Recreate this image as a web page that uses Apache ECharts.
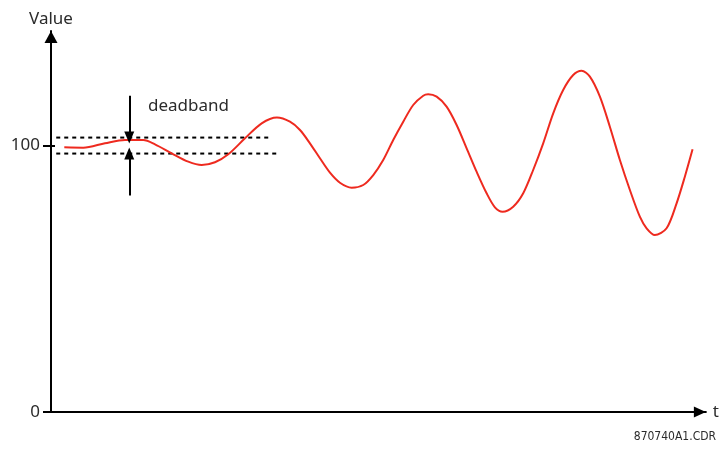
<!DOCTYPE html>
<html>
<head>
<meta charset="utf-8">
<script src="https://cdn.jsdelivr.net/npm/echarts@6/dist/echarts.min.js"></script>
<style>
  html, body { margin: 0; padding: 0; background: #fff; }
  #chart { width: 722px; height: 449px; }
</style>
</head>
<body>
<div id="chart"></div>
<script>
// signal over time (t in arbitrary units 0..100)
const timeValues = [
  2.03, 4.93, 8.24, 11.3, 14.09, 15.88, 18.43, 20.96, 23.01, 25.04, 27.07, 29.62,
  32.17, 34.5, 36.49, 38.02, 39.54, 41.07, 42.6, 44.12, 45.91, 47.68, 49.21,
  50.73, 52.26, 53.79, 55.31, 56.84, 57.6, 58.89, 60.41, 61.94, 63.47, 64.99,
  66.52, 67.79, 68.96, 70.58, 72.11, 73.63, 75.16, 76.69, 78.21, 79.74, 81.02,
  82.29, 83.82, 85.34, 86.87, 88.4, 89.92, 90.95, 92.21, 94.0, 95.53, 96.79,
  97.97,
];
const signalValues = [
  99.35, 99.2, 100.85, 102.09, 102.09, 100.48, 97.1, 93.95, 92.71, 93.72, 96.72, 102.73,
  108.36, 110.54, 108.96, 105.84, 100.85, 95.22, 89.82, 86.06, 84.19, 85.2, 88.95,
  94.58, 102.09, 108.96, 115.23, 118.72, 119.24, 118.34, 114.59, 107.72, 98.97, 90.19,
  82.09, 76.83, 75.18, 77.06, 82.09, 90.83, 100.85, 112.11, 120.86, 126.49, 128.1,
  125.85, 118.34, 107.08, 94.58, 83.32, 73.3, 68.95, 66.43, 68.95, 78.33, 88.32,
  98.6,
];

// deadband limits
const bandUpper = { value: 103, from: 0.8, to: 33.7 };
const bandLower = { value: 97, from: 0.8, to: 35.0 };
const arrowTime = 11.95;
const arrowDown = [118.7, 103];
const arrowUp = [81.3, 97];

const yTickValues = [0, 100];

const FONT = '"Noto Sans", sans-serif';
const TEXT = '#2b2b2b';

const chart = echarts.init(document.getElementById('chart'));

chart.setOption({
  animation: false,
  backgroundColor: '#fff',
  title: [
    {
      text: 'deadband',
      left: 143, top: 93,
      textStyle: { fontFamily: FONT, fontSize: 17, fontWeight: 'normal', color: TEXT },
    },
    {
      text: '870740A1.CDR',
      right: 1, bottom: 1,
      textStyle: { fontFamily: '"Liberation Sans Narrow", "DejaVu Sans Condensed", sans-serif', fontSize: 12, fontWeight: 'normal', color: TEXT },
    },
  ],
  grid: { left: 51, right: 15, top: 31, bottom: 37 },
  xAxis: {
    type: 'value',
    min: 0,
    max: 100,
    name: 't',
    nameLocation: 'end',
    nameGap: 7,
    nameTextStyle: { fontFamily: FONT, fontSize: 17, color: TEXT, verticalAlign: 'middle' },
    axisLine: {
      onZero: false,
      symbol: ['none', 'triangle'],
      symbolSize: [11, 12],
      symbolOffset: [0, -6],
      lineStyle: { color: '#000', width: 2 },
    },
    axisTick: { show: false },
    axisLabel: { show: false },
    splitLine: { show: false },
  },
  yAxis: [
    {
      type: 'value',
      min: 0,
      max: 143,
      name: 'Value',
      nameLocation: 'end',
      nameGap: 3,
      nameTextStyle: { fontFamily: FONT, fontSize: 17, color: TEXT, align: 'center' },
      axisLine: {
        symbol: ['none', 'triangle'],
        symbolSize: [13, 12],
        symbolOffset: [0, -6],
        lineStyle: { color: '#000', width: 2 },
      },
      axisTick: { show: true, length: 8, customValues: yTickValues, lineStyle: { color: '#000', width: 2 } },
      axisLabel: { margin: 11, customValues: yTickValues, fontFamily: FONT, fontSize: 17, color: TEXT },
      splitLine: { show: false },
    },
    {
      type: 'value',
      min: 0,
      max: 143,
      position: 'left',
      axisLine: { show: false },
      axisTick: { show: true, inside: true, length: 4, customValues: [100], lineStyle: { color: '#000', width: 2 } },
      axisLabel: { show: false },
      splitLine: { show: false },
    },
  ],
  series: [
    {
      type: 'line',
      data: [[bandUpper.from, bandUpper.value], [bandUpper.to, bandUpper.value]],
      showSymbol: false,
      lineStyle: { color: '#000', width: 2, type: [4, 4] },
    },
    {
      type: 'line',
      data: [[bandLower.from, bandLower.value], [bandLower.to, bandLower.value]],
      showSymbol: false,
      lineStyle: { color: '#000', width: 2, type: [4, 4] },
    },
    {
      type: 'line',
      data: timeValues.map((t, i) => [t, signalValues[i]]),
      showSymbol: false,
      smooth: 0.3,
      lineStyle: { color: '#ee2a1f', width: 2 },
      markLine: {
        silent: true,
        symbol: ['none', 'triangle'],
        symbolSize: [10, 12],
        label: { show: false },
        lineStyle: { color: '#000', width: 2, type: 'solid' },
        data: [
          [{ coord: [arrowTime, arrowDown[0]] }, { coord: [arrowTime, arrowDown[1]] }],
          [{ coord: [arrowTime, arrowUp[0]] }, { coord: [arrowTime, arrowUp[1]] }],
        ],
      },
    },
  ],
});
</script>
</body>
</html>
